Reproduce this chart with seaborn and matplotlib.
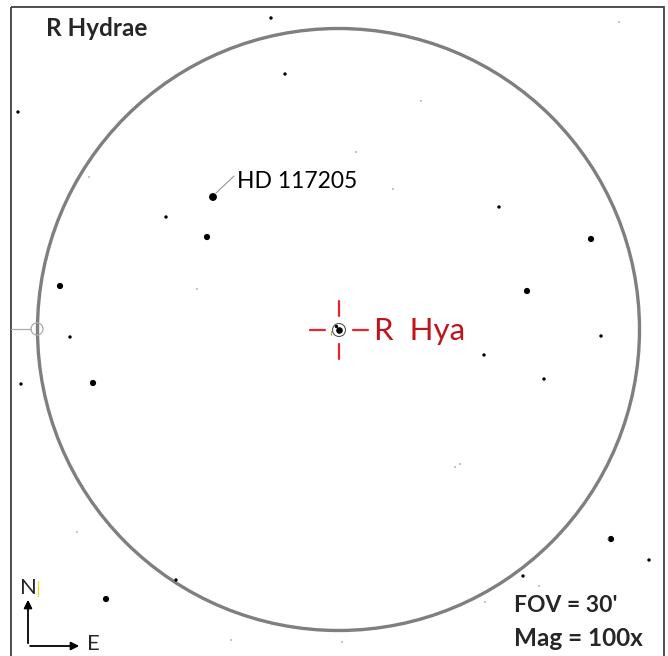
import numpy as np
import pandas as pd
import seaborn as sns
import matplotlib.pyplot as plt
from matplotlib.patches import Circle, Rectangle

# star positions (pixel coords, y down) and brightness class
star_x = [213, 207, 60, 93, 591, 527, 611, 106,
          271, 285, 18, 166, 70, 21, 499, 601, 484, 544, 649, 176, 523,
          619, 421, 356, 393, 89, 197, 77, 231, 455, 460, 485, 342, 539, 608]
star_y = [197, 237, 286, 383, 239, 291, 539, 599,
          18, 74, 112, 217, 337, 384, 207, 336, 355, 379, 560, 580, 576,
          22, 101, 152, 189, 177, 289, 532, 640, 467, 464, 602, 642, 586, 539]
star_cls = ["bright"] + ["medium"] * 7 + ["small"] * 13 + ["faint"] * 14

target_name = "R  Hya"
target_xy = (339, 330)
label_star = "HD 117205"
title = "R Hydrae"
fov_text = "FOV = 30'"
mag_text = "Mag = 100x"

df = pd.DataFrame({"x": star_x, "y": star_y, "cls": star_cls})

sns.set_style("white")
plt.rcParams['font.family'] = ['Lato', 'DejaVu Sans']

fig = plt.figure(figsize=(6.68, 6.56), dpi=100)
ax = fig.add_axes([0, 0, 1, 1])
ax.set_xlim(0, 668)
ax.set_ylim(656, 0)
ax.set_aspect('equal')
ax.axis('off')

# frame and eyepiece circle
ax.add_patch(Rectangle((11, 7), 653, 660, fill=False, ec='#404040', lw=1.3))
ax.add_patch(Circle((338.5, 329.5), 301, fill=False, ec='#7f7f7f', lw=2.4))

# stars
sns.scatterplot(data=df, x="x", y="y", hue="cls", size="cls",
                palette={"bright": "black", "medium": "black", "small": "black", "faint": "#9a9a9a"},
                sizes={"bright": 32, "medium": 20, "small": 6, "faint": 1.5},
                linewidth=0, legend=False, ax=ax)
ax.set_xlabel("")
ax.set_ylabel("")

# target star with ring and crosshair
tx, ty = target_xy
ax.scatter([tx], [ty], s=14, color='black', zorder=5)
ax.scatter([tx - 3], [ty - 4], s=2, color='black', zorder=5)
ax.add_patch(Circle((tx, ty), 6.5, fill=False, ec='#555555', lw=0.8))
ax.plot([tx - 8.5, tx - 8.5], [ty + 1, ty + 5], color='#b5b820', lw=0.8)
red = '#e8262e'
for dx, dy in [(0, -1), (0, 1), (-1, 0), (1, 0)]:
    ax.plot([tx + dx * 14, tx + dx * 29], [ty + dy * 14, ty + dy * 29], color=red, lw=1.6)
ax.text(374, ty + 1, target_name, color='#c0141c', fontsize=22.5, va='center', ha='left')

# HD label with leader line
ax.plot([216, 234], [193, 176], color='#888888', lw=0.7)
ax.text(237, 181, label_star, color='black', fontsize=16.5, va='center', ha='left')

# left edge marker
ax.plot([11, 31], [329, 329], color='#aaaaaa', lw=0.9)
ax.add_patch(Circle((37, 329), 6, fill=False, ec='#aaaaaa', lw=0.9))

ax.text(46, 29, title, fontsize=17.5, fontweight='bold', va='center', ha='left')

# compass
ax.annotate("", xy=(28, 597), xytext=(28, 646),
            arrowprops=dict(arrowstyle='-|>', color='black', lw=1.3, mutation_scale=12))
ax.annotate("", xy=(82, 646), xytext=(27.4, 646),
            arrowprops=dict(arrowstyle='-|>', color='black', lw=1.3, mutation_scale=12))
ax.text(20, 588, "N", fontsize=16, va='center', ha='left')
ax.plot([38, 38], [581, 596], color='#e8e000', lw=0.8)
ax.text(87, 644, "E", fontsize=16, va='center', ha='left')

# FOV / magnification
ax.text(514, 605, fov_text, fontsize=16.5, fontweight='bold', va='center', ha='left')
ax.text(514, 639, mag_text, fontsize=17.5, fontweight='bold', va='center', ha='left')

fig.savefig("out.png", dpi=100)
